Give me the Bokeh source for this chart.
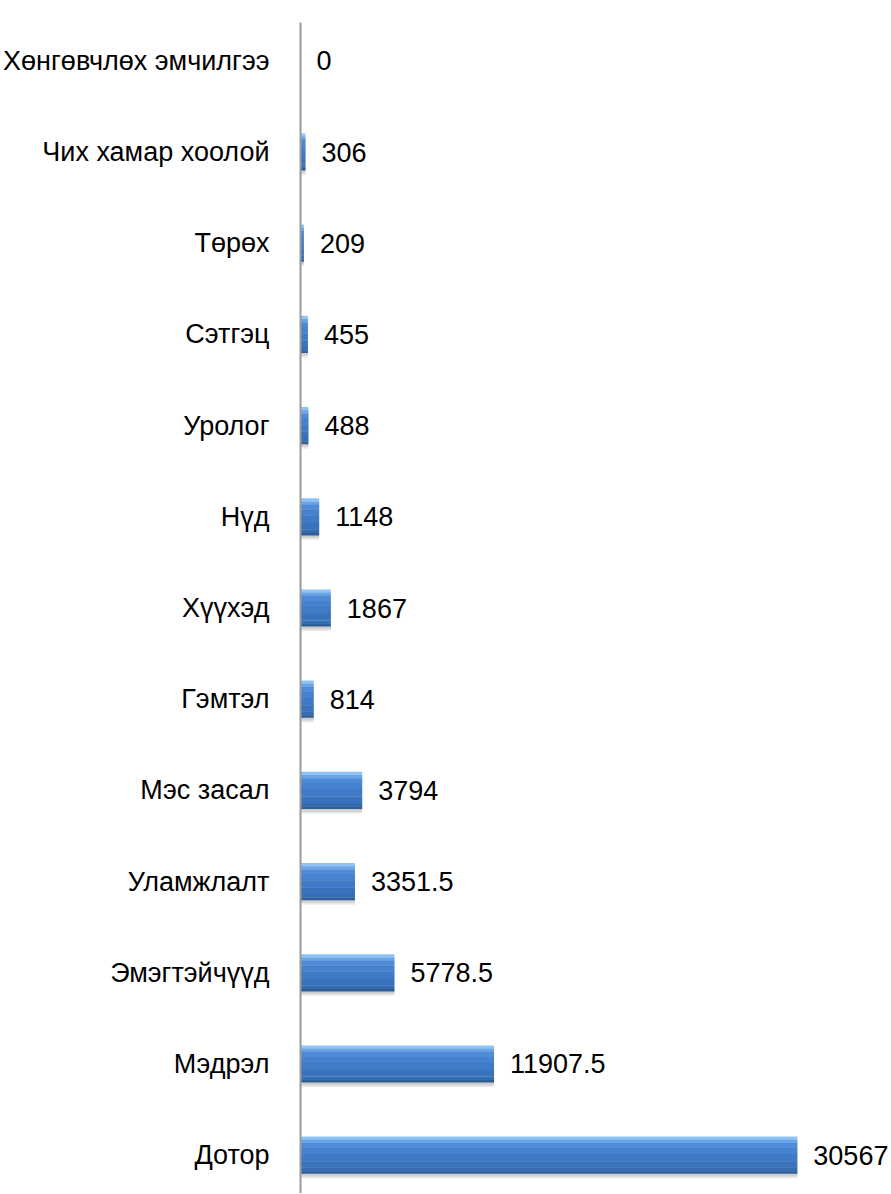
from bokeh.plotting import figure
from bokeh.models import Range1d, FactorRange, ColumnDataSource
from bokeh.transform import dodge
from bokeh.core.properties import value
from bokeh.embed import file_html
from bokeh.resources import INLINE

# Data (bottom to top)
categories = ["Дотор", "Мэдрэл", "Эмэгтэйчүүд", "Уламжлалт", "Мэс засал", "Гэмтэл",
              "Хүүхэд", "Нүд", "Уролог", "Сэтгэц", "Төрөх", "Чих хамар хоолой",
              "Хөнгөвчлөх эмчилгээ"]
values = [30567, 11907.5, 5778.5, 3351.5, 3794, 814, 1867, 1148, 488, 455, 209, 306, 0]
labels = [f"{v:g}" for v in values]

src = ColumnDataSource(dict(cat=categories, val=values, lab=labels))

FONT = "Liberation Sans"

p = figure(width=891, height=1193, output_backend="svg", toolbar_location=None,
           x_range=Range1d(0, 36360),
           y_range=FactorRange(*categories, range_padding=-0.08, range_padding_units="absolute"),
           x_axis_location=None, min_border_left=296, min_border_right=0,
           min_border_top=22, min_border_bottom=0)
p.outline_line_color = None
p.xgrid.visible = False
p.ygrid.visible = False
p.background_fill_color = "white"
p.border_fill_color = "white"

ax = p.yaxis[0]
ax.axis_line_color = "#9a9a9a"
ax.axis_line_width = 2
ax.major_tick_line_color = None
ax.minor_tick_line_color = None
ax.major_label_standoff = 25
ax.major_label_text_font = FONT
ax.major_label_text_font_size = "27px"
ax.major_label_text_color = "black"

H = 0.406  # bar thickness in band units

# soft shadow
p.hbar(y=dodge("cat", -0.05, range=p.y_range), left=0, right="val", height=H,
       source=src, fill_color="#c8c8c8", fill_alpha=0.4, line_color=None)
p.hbar(y=dodge("cat", -0.03, range=p.y_range), left=0, right="val", height=H,
       source=src, fill_color="#a0a0a0", fill_alpha=0.35, line_color=None)

# gradient strips, top to bottom
strips = [
    (0.035, "#8ec3f6"),
    (0.035, "#6aa5e8"),
    (0.05, "#4f8bd6"),
    (0.07, "#4582cf"),
    (0.08, "#3e7ac6"),
    (0.07, "#3973bd"),
    (0.04, "#356db3"),
    (0.026, "#2e5d98"),
]
top = H / 2
for h, c in strips:
    center = top - h / 2
    p.hbar(y=dodge("cat", center, range=p.y_range), left=0, right="val", height=h + 0.002,
           source=src, fill_color=c, line_color=None)
    top -= h

# value labels
p.text(x="val", y="cat", text="lab", source=src, x_offset=16,
       text_baseline="middle", text_align="left",
       text_font=value(FONT), text_font_size="27px", text_color="black")

open("out.html", "w").write(file_html(p, INLINE))
